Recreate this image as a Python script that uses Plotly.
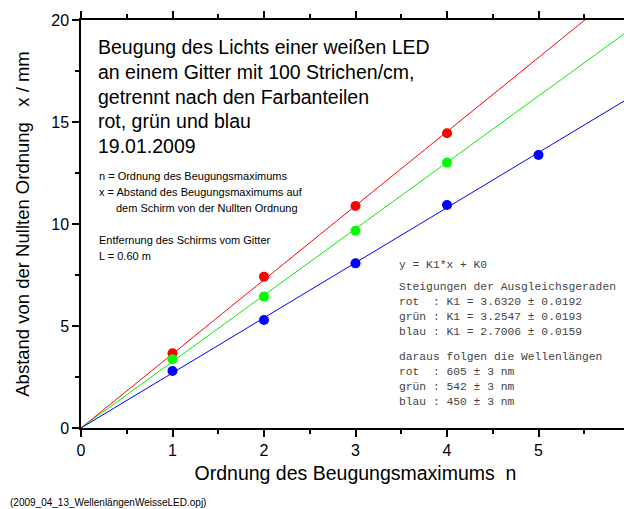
import plotly.graph_objects as go

# ---- data ----
order_rgb = [1, 2, 3, 4]
red_x = [3.66, 7.42, 10.88, 14.45]
green_x = [3.37, 6.44, 9.67, 13.01]
order_blue = [1, 2, 3, 4, 5]
blue_x = [2.79, 5.29, 8.07, 10.93, 13.38]

slope_red = 3.6320
slope_green = 3.2547
slope_blue = 2.7006
fit_n = [0, 6]

x_ticks = [0, 1, 2, 3, 4, 5, 6]
y_ticks = [0, 5, 10, 15, 20]

# page body has an 8px margin; work in reference-window pixels and subtract it
OFF = 8
W, H = 632 - OFF, 509 - OFF
L, R, T, B = 81 - OFF, 630 - OFF, 20 - OFF, 428 - OFF

def px(xp):
    return (xp - OFF - L) / (R - L)

def py(yp):
    return (B - (yp - OFF)) / (B - T)

fig = go.Figure()

for slope, col in [(slope_red, "#ff0000"), (slope_green, "#00ee00"), (slope_blue, "#0000ff")]:
    fig.add_trace(go.Scatter(x=fit_n, y=[slope * n for n in fit_n], mode="lines",
                             line=dict(color=col, width=1), showlegend=False, hoverinfo="skip"))

for xs, ys, col in [(order_rgb, red_x, "#ff0000"), (order_rgb, green_x, "#00ff00"),
                    (order_blue, blue_x, "#0000ff")]:
    fig.add_trace(go.Scatter(x=xs, y=ys, mode="markers",
                             marker=dict(color=col, size=10), showlegend=False,
                             cliponaxis=False))

axis_common = dict(
    showgrid=False, zeroline=False, showline=True, linecolor="black", linewidth=1.5,
    mirror="allticks", ticks="outside", ticklen=7, tickwidth=1.5, tickcolor="black",
    automargin=False, ticklabeloverflow="allow",
    tickfont=dict(family="Liberation Sans, Arial, sans-serif", size=16, color="black"),
)

fig.update_xaxes(range=[0, 6], tickvals=x_ticks, ticktext=[str(v) for v in x_ticks],
                 minor=dict(dtick=0.5, ticks="outside", ticklen=4, tickwidth=1.5, tickcolor="black"),
                 title=dict(text="Ordnung des Beugungsmaximums  n",
                            font=dict(family="Liberation Sans, Arial, sans-serif", size=19.5, color="black"),
                            standoff=8),
                 **axis_common)
fig.update_yaxes(range=[0, 20], tickvals=y_ticks, ticktext=[str(v) for v in y_ticks],
                 minor=dict(dtick=2.5, ticks="outside", ticklen=4, tickwidth=1.5, tickcolor="black"),
                 title=dict(text="Abstand von der Nullten Ordnung   x / mm",
                            font=dict(family="Liberation Sans, Arial, sans-serif", size=18.5, color="black"),
                            standoff=17),
                 **axis_common)

annotations = []
sans = "Liberation Sans, Arial, sans-serif"
mono = "Liberation Mono, Courier New, monospace"

title_lines = ["Beugung des Lichts einer weißen LED",
               "an einem Gitter mit 100 Strichen/cm,",
               "getrennt nach den Farbanteilen",
               "rot, grün und blau",
               "19.01.2009"]
for i, t in enumerate(title_lines):
    annotations.append(dict(text=t, x=px(96), y=py(47 + i * 24.8), xref="paper", yref="paper",
                            xanchor="left", yanchor="middle", showarrow=False,
                            font=dict(family=sans, size=19.5, color="black")))

small_lines = [("n = Ordnung des Beugungsmaximums", 97, 176),
               ("x = Abstand des Beugungsmaximums auf", 97, 192),
               ("dem Schirm von der Nullten Ordnung", 114, 208),
               ("Entfernung des Schirms vom Gitter", 97, 240),
               ("L = 0.60 m", 97, 256)]
for t, xx, yy in small_lines:
    annotations.append(dict(text=t, x=px(xx), y=py(yy), xref="paper", yref="paper",
                            xanchor="left", yanchor="middle", showarrow=False,
                            font=dict(family=sans, size=11, color="black")))

mono_lines = [("y = K1*x + K0", 265),
              ("Steigungen der Ausgleichsgeraden", 287),
              ("rot  : K1 = 3.6320 ± 0.0192", 302),
              ("grün : K1 = 3.2547 ± 0.0193", 317),
              ("blau : K1 = 2.7006 ± 0.0159", 332),
              ("daraus folgen die Wellenlängen", 357),
              ("rot  : 605 ± 3 nm", 372),
              ("grün : 542 ± 3 nm", 387),
              ("blau : 450 ± 3 nm", 402)]
for t, yy in mono_lines:
    annotations.append(dict(text=t.replace(" ", "&nbsp;"), x=px(397), y=py(yy), xref="paper", yref="paper",
                            xanchor="left", yanchor="middle", showarrow=False,
                            font=dict(family=mono, size=11.3, color="#444444")))

annotations.append(dict(text="(2009_04_13_WellenlängenWeisseLED.opj)", x=px(8), y=py(502),
                        xref="paper", yref="paper", xanchor="left", yanchor="middle",
                        showarrow=False, font=dict(family=sans, size=10, color="black")))

fig.update_layout(width=W, height=H, margin=dict(l=L, r=W - R, t=T, b=H - B, autoexpand=False),
                  paper_bgcolor="white", plot_bgcolor="white", annotations=annotations,
                  showlegend=False)

fig.write_html("out.html")
